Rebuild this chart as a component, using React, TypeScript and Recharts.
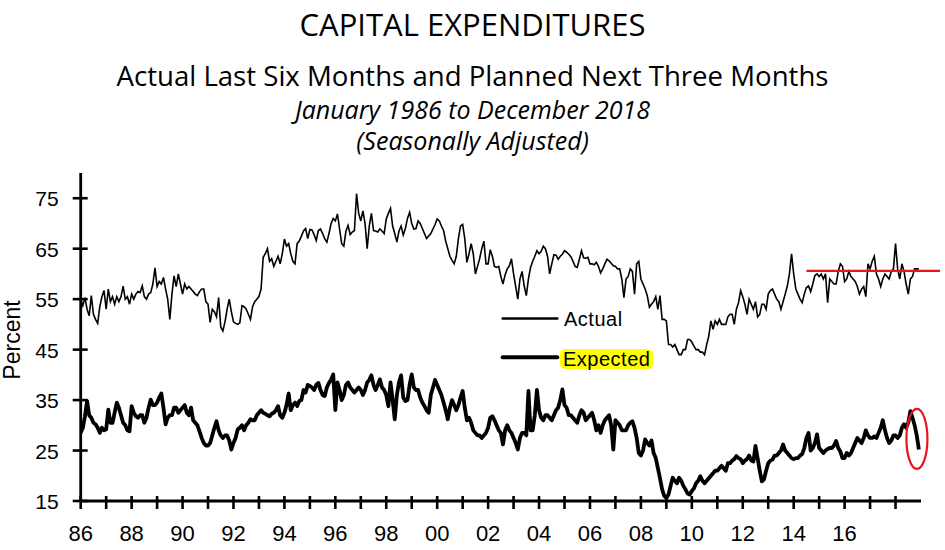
import React from 'react';
import { LineChart, Line, XAxis, YAxis, ReferenceLine, ReferenceDot } from 'recharts';

// monthly readings, Jan 1986 .. Dec 2018 (one row per year)
const actual: number[] = [
  55, 53.7, 55.3, 53, 51.7, 55.7, 52, 51, 50.2, 53.5, 55.5, 56.7, // 1986
  53, 57, 54.5, 55.5, 54, 55.5, 54.5, 55.5, 57.6, 55, 55.5, 54, // 1987
  56, 55, 56, 56.5, 56.3, 57.6, 55.5, 55, 56, 56.3, 58, 61.2, // 1988
  57.5, 58.5, 58, 59.3, 57, 55, 51, 56, 59.6, 57.5, 60, 58, // 1989
  56, 58, 57, 57.5, 57, 56.5, 56, 55.7, 56.5, 57, 57, 54.5, // 1990
  54, 50.4, 53, 52.5, 51.5, 55.3, 49.5, 48.7, 50.5, 53, 55, 52.5, // 1991
  50.5, 50.2, 50, 50.3, 53.7, 53.5, 53, 52, 51, 53.5, 54.5, 55, // 1992
  55.5, 57, 63.3, 64, 65, 62.5, 63, 61.5, 62.5, 63.5, 62, 64, // 1993
  66.9, 65.5, 66, 64, 62.5, 62, 66, 66.5, 67.5, 68.5, 69, 67, // 1994
  68.8, 68.7, 67.8, 66.6, 68.6, 68.9, 68, 67, 66.3, 68, 70, 71, // 1995
  70.5, 71.9, 68.9, 66, 65.5, 68.5, 69.6, 67.8, 68.3, 68.6, 75.9, 72, // 1996
  70.5, 72.5, 70, 65, 69.5, 72, 68.6, 68.5, 68.3, 68.9, 68.5, 68, // 1997
  70.9, 72, 73, 69.5, 68, 66.3, 68.5, 69.5, 67.7, 69, 71, 72.2, // 1998
  70, 68.9, 69, 70.5, 70, 69, 68, 67, 67.5, 68, 68.9, 69.8, // 1999
  70.9, 70.5, 69.5, 68.6, 66.5, 65, 63.5, 62.7, 62, 63.5, 67, 69.5, // 2000
  69.8, 67, 62.3, 64, 66, 64, 60, 61.5, 63, 65, 66.5, 62, // 2001
  62, 64.8, 63.5, 61.5, 61.3, 61.5, 59.5, 58, 59.8, 61, 61.6, 63, // 2002
  60, 57.5, 55, 59, 60.5, 57.6, 55.7, 59, 61.3, 62.5, 63.5, 64.6, // 2003
  64, 64.5, 65.5, 65, 63.5, 60, 62, 63.8, 63.7, 62.9, 63.5, 63.9, // 2004
  64.6, 64.3, 63.9, 63.4, 62.5, 61.5, 61.3, 62.9, 64.6, 63.2, 63.1, 63.3, // 2005
  62, 62, 61.8, 62.3, 61.5, 60.2, 61, 62, 62.9, 62.6, 62.1, 61.6, // 2006
  61.5, 61, 61, 59, 55.3, 59, 59.5, 61, 60.5, 56, 62, 62.5, // 2007
  59, 58, 57, 55.7, 53.4, 54, 54.5, 55.5, 53, 55.7, 51, 51, // 2008
  50.7, 46, 46, 45.5, 46, 45, 44, 44, 45, 45, 47, 47, // 2009
  46.5, 45.7, 45, 45, 44.5, 44.5, 44, 46, 47.7, 50.7, 49, 50.7, // 2010
  50, 51, 50, 50, 50, 51.5, 52, 52, 50, 53, 54.3, 56.7, // 2011
  55.5, 54, 52, 55, 54, 53, 54.5, 51.5, 52, 54, 54, 53, // 2012
  56, 56.7, 57, 56, 55, 54.5, 53, 54.5, 56, 57.6, 60, 64, // 2013
  60, 57, 56, 55, 54.3, 56, 57.3, 57.6, 56.5, 58, 59.7, 60, // 2014
  59.5, 60, 59, 60, 54.3, 59, 58.5, 58, 58, 60.5, 62, 61.5, // 2015
  58.5, 59, 60.5, 59.5, 59, 58.5, 57.5, 56, 57, 57.5, 55.5, 62, // 2016
  61, 62.5, 63.5, 60, 59, 57.5, 59, 60, 59.5, 59, 60.5, 61, // 2017
  66, 61, 59, 62, 60.5, 58, 56, 59, 59.5, 61, 61, 61, // 2018
];

const expected: number[] = [
  28.5, 29.5, 31.8, 34.8, 32, 31.5, 30.5, 30.2, 29.5, 28.5, 29.5, 29, // 1986
  29.2, 33.1, 30.5, 30.5, 32.5, 34.5, 33.5, 32, 30.5, 30, 29, 28.8, // 1987
  33.8, 32.5, 31.8, 31.5, 32, 32, 30.5, 31.5, 33.5, 35.1, 34, 34, // 1988
  34.5, 35.5, 36.3, 33.5, 30.2, 31.5, 32, 32, 33.5, 33.5, 32.5, 33, // 1989
  33.5, 34, 32.5, 32, 33.5, 31, 30.5, 30, 28.8, 27.5, 26.5, 26, // 1990
  26, 26.5, 28, 29.5, 30.8, 29, 28, 27.5, 28, 28, 27, 25.2, // 1991
  26.5, 27.5, 29.2, 29.5, 30, 29, 30, 30.5, 31.2, 31, 31, 32, // 1992
  32.5, 33, 32.5, 32.3, 32, 31.8, 32.3, 32.5, 33, 33.8, 32, 31.5, // 1993
  32.5, 34, 36.3, 33, 34, 34.5, 33.8, 34.8, 35, 37, 36.5, 38, // 1994
  37.8, 37.5, 37, 38, 38.4, 37, 36, 35.8, 37.5, 38.4, 39, 40.1, // 1995
  33, 38.5, 37, 35, 36, 38, 38.5, 37.5, 37, 36.5, 37, 37.5, // 1996
  37, 36, 37, 38.5, 39, 39.9, 38, 37, 38, 39.1, 37.5, 37, // 1997
  36, 33.8, 38.5, 35, 31.2, 36, 38.5, 39.9, 35.5, 34.8, 35, 38, // 1998
  40.1, 37.5, 37, 37, 35.5, 34.5, 33.8, 33, 32.5, 36, 37.5, 39, // 1999
  38, 37, 36, 34.5, 33, 31.2, 33.5, 35, 34, 33, 34, 35.5, // 2000
  36.8, 33.5, 31, 31.5, 30.5, 29, 28.5, 28, 28, 27.5, 28, 28.5, // 2001
  29.5, 31.5, 31.8, 31, 30, 29, 28.5, 26.2, 29, 30, 29, 28.5, // 2002
  27.5, 26.5, 25.2, 27.5, 28.5, 28.5, 28, 36.8, 29, 29, 32, 37, // 2003
  33, 31.5, 31, 32, 32, 31.5, 31, 32, 33, 33.5, 35, 37.1, // 2004
  34, 33.5, 32, 32, 31.5, 31, 30.5, 32, 33, 32.5, 31, 31.5, // 2005
  32, 32.5, 31, 29, 30, 28.5, 30, 31, 31.5, 32, 30, 25.2, // 2006
  31, 30.5, 30, 29, 29, 29, 30, 30.5, 30.8, 29.5, 27.5, 24.5, // 2007
  24, 25, 27.2, 26.5, 26, 27, 24.5, 23.5, 21.5, 19.5, 17.3, 16, // 2008
  15.6, 16.3, 18, 19.6, 19, 18.5, 19.6, 19, 18, 17.3, 16.5, 16.3, // 2009
  17, 17.5, 18.5, 19, 19.9, 19, 18.5, 19, 19.5, 20, 20.5, 21, // 2010
  21, 21.5, 22, 21.5, 21, 22.5, 22.5, 23, 23.3, 23.9, 23.5, 23.3, // 2011
  22.5, 23, 23.3, 24, 23, 22.8, 25.9, 23.5, 21, 18.9, 19.3, 21, // 2012
  22.5, 23, 23.2, 24, 24, 24.5, 25, 26.2, 25, 24.5, 24, 23.5, // 2013
  23.3, 23.5, 23.5, 24, 24.3, 25.5, 27.5, 28.5, 25, 25.5, 26.5, 28.2, // 2014
  25.5, 25, 24.5, 25, 25.3, 25.5, 25.5, 26, 26.9, 25.5, 24.8, 23.5, // 2015
  23.5, 24.5, 24, 24.5, 25.5, 26.5, 27.5, 27, 26.5, 27.5, 29, 28, // 2016
  27.5, 27.5, 27.8, 27.5, 28.5, 29.5, 31, 29, 27.5, 26.5, 27, 28, // 2017
  28, 27.5, 28, 29.5, 30.2, 29.5, 30.5, 32.8, 31.5, 30, 28, 25.2, // 2018
];

const firstYear = 1986;
const lastYear = 2018;
const xLabels = ['86', '88', '90', '92', '94', '96', '98', '00', '02', '04', '06', '08', '10', '12', '14', '16'];
const yTicks = [15, 25, 35, 45, 55, 65, 75];

// red marker line over recent "Actual" readings and ring round the last "Expected" drop
const redLine = { from: 2014.5, to: 2019.75, level: 60.6 };
const redRing = { x: 2018.84, y: 27.3 };

const data = actual.map((a, i) => ({
  t: firstYear + i / 12,
  actual: a,
  expected: expected[i],
}));

const xTicks: number[] = [];
for (let y = firstYear; y <= lastYear; y++) xTicks.push(y);

const tickFont = '"Liberation Sans", Arial, sans-serif';

const XTick = (props: any) => {
  const { x, y, payload } = props;
  const yr = Math.round(payload.value);
  const lab = xLabels.find((l) => yr % 100 === Number(l));
  return (
    <g>
      <line x1={x} x2={x} y1={y - 5} y2={y + 8} stroke="#000" strokeWidth={2.6} />
      {lab !== undefined && yr % 2 === 0 && (
        <text x={x} y={y + 40} textAnchor="middle" fontSize={22} fontFamily={tickFont} fill="#000">
          {lab}
        </text>
      )}
    </g>
  );
};

const YTick = (props: any) => {
  const { x, y, payload } = props;
  return (
    <g>
      <line x1={x - 8} x2={x + 7} y1={y} y2={y} stroke="#000" strokeWidth={2.6} />
      <text x={x - 22} y={y} dy="0.38em" textAnchor="end" fontSize={21} fontFamily={tickFont} fill="#000">
        {payload.value}
      </text>
    </g>
  );
};

const titleBase: React.CSSProperties = {
  position: 'absolute',
  left: 0,
  width: 945,
  textAlign: 'center',
  fontFamily: '"Open Sans", sans-serif',
  color: '#000',
  lineHeight: 1,
  whiteSpace: 'nowrap',
};

const App = () => {
  return (
    <div style={{ position: 'absolute', left: 0, top: 0, width: 945, height: 550, background: '#fff' }}>
      <div style={{ ...titleBase, top: 9, fontSize: 31 }}>CAPITAL EXPENDITURES</div>
      <div style={{ ...titleBase, top: 62, fontSize: 27.6 }}>Actual Last Six Months and Planned Next Three Months</div>
      <div style={{ ...titleBase, top: 97, fontSize: 25, fontStyle: 'italic' }}>January 1986 to December 2018</div>
      <div style={{ ...titleBase, top: 128, fontSize: 25, fontStyle: 'italic' }}>(Seasonally Adjusted)</div>

      <div
        style={{
          position: 'absolute',
          left: 12,
          top: 340,
          transform: 'translate(-50%, -50%) rotate(-90deg)',
          fontFamily: tickFont,
          fontSize: 23,
          lineHeight: 1,
          whiteSpace: 'nowrap',
        }}
      >
        Percent
      </div>

      <div style={{ position: 'absolute', left: 0, top: 0 }}>
        <LineChart width={945} height={550} data={data} margin={{ top: 173, right: 24, bottom: 20, left: 0 }}>
          <XAxis
            dataKey="t"
            type="number"
            domain={[firstYear, lastYear + 1]}
            ticks={xTicks}
            interval={0}
            tick={<XTick />}
            tickLine={false}
            tickSize={0}
            tickMargin={0}
            axisLine={{ stroke: '#000', strokeWidth: 2.8 }}
            height={29}
            allowDataOverflow
          />
          <YAxis
            type="number"
            domain={[15, 80]}
            ticks={yTicks}
            interval={0}
            tick={<YTick />}
            tickLine={false}
            tickSize={0}
            tickMargin={0}
            axisLine={{ stroke: '#000', strokeWidth: 2.8 }}
            width={80.7}
            allowDataOverflow
          />
          <Line
            type="linear"
            dataKey="actual"
            stroke="#000"
            strokeWidth={1.6}
            dot={false}
            activeDot={false}
            isAnimationActive={false}
          />
          <Line
            type="linear"
            dataKey="expected"
            stroke="#000"
            strokeWidth={3.8}
            strokeLinejoin="round"
            dot={false}
            activeDot={false}
            isAnimationActive={false}
          />
          <ReferenceLine
            segment={[
              { x: redLine.from, y: redLine.level },
              { x: redLine.to, y: redLine.level },
            ]}
            stroke="#e8141b"
            strokeWidth={2.2}
            ifOverflow="visible"
          />
          <ReferenceDot
            x={redRing.x}
            y={redRing.y}
            ifOverflow="visible"
            shape={(p: any) => (
              <ellipse cx={p.cx} cy={p.cy} rx={10.5} ry={30} fill="none" stroke="#e8141b" strokeWidth={2.2} />
            )}
          />
        </LineChart>
      </div>

      {/* legend */}
      <svg style={{ position: 'absolute', left: 500, top: 310 }} width={60} height={60}>
        <line x1={2.7} x2={57.3} y1={8.5} y2={8.5} stroke="#000" strokeWidth={2.6} strokeLinecap="round" />
        <line x1={2.7} x2={57.3} y1={47.3} y2={47.3} stroke="#000" strokeWidth={4} strokeLinecap="round" />
      </svg>
      <div
        style={{
          position: 'absolute',
          left: 564,
          top: 308,
          fontFamily: tickFont,
          fontSize: 20,
          lineHeight: '22px',
          letterSpacing: 0.5,
        }}
      >
        Actual
      </div>
      <div
        style={{
          position: 'absolute',
          left: 560,
          top: 349,
          height: 20,
          padding: '0 3px',
          background: '#ffff00',
          borderRadius: 5,
          fontFamily: tickFont,
          fontSize: 20,
          lineHeight: '20px',
          letterSpacing: 0.5,
        }}
      >
        Expected
      </div>
    </div>
  );
};

export default App;
